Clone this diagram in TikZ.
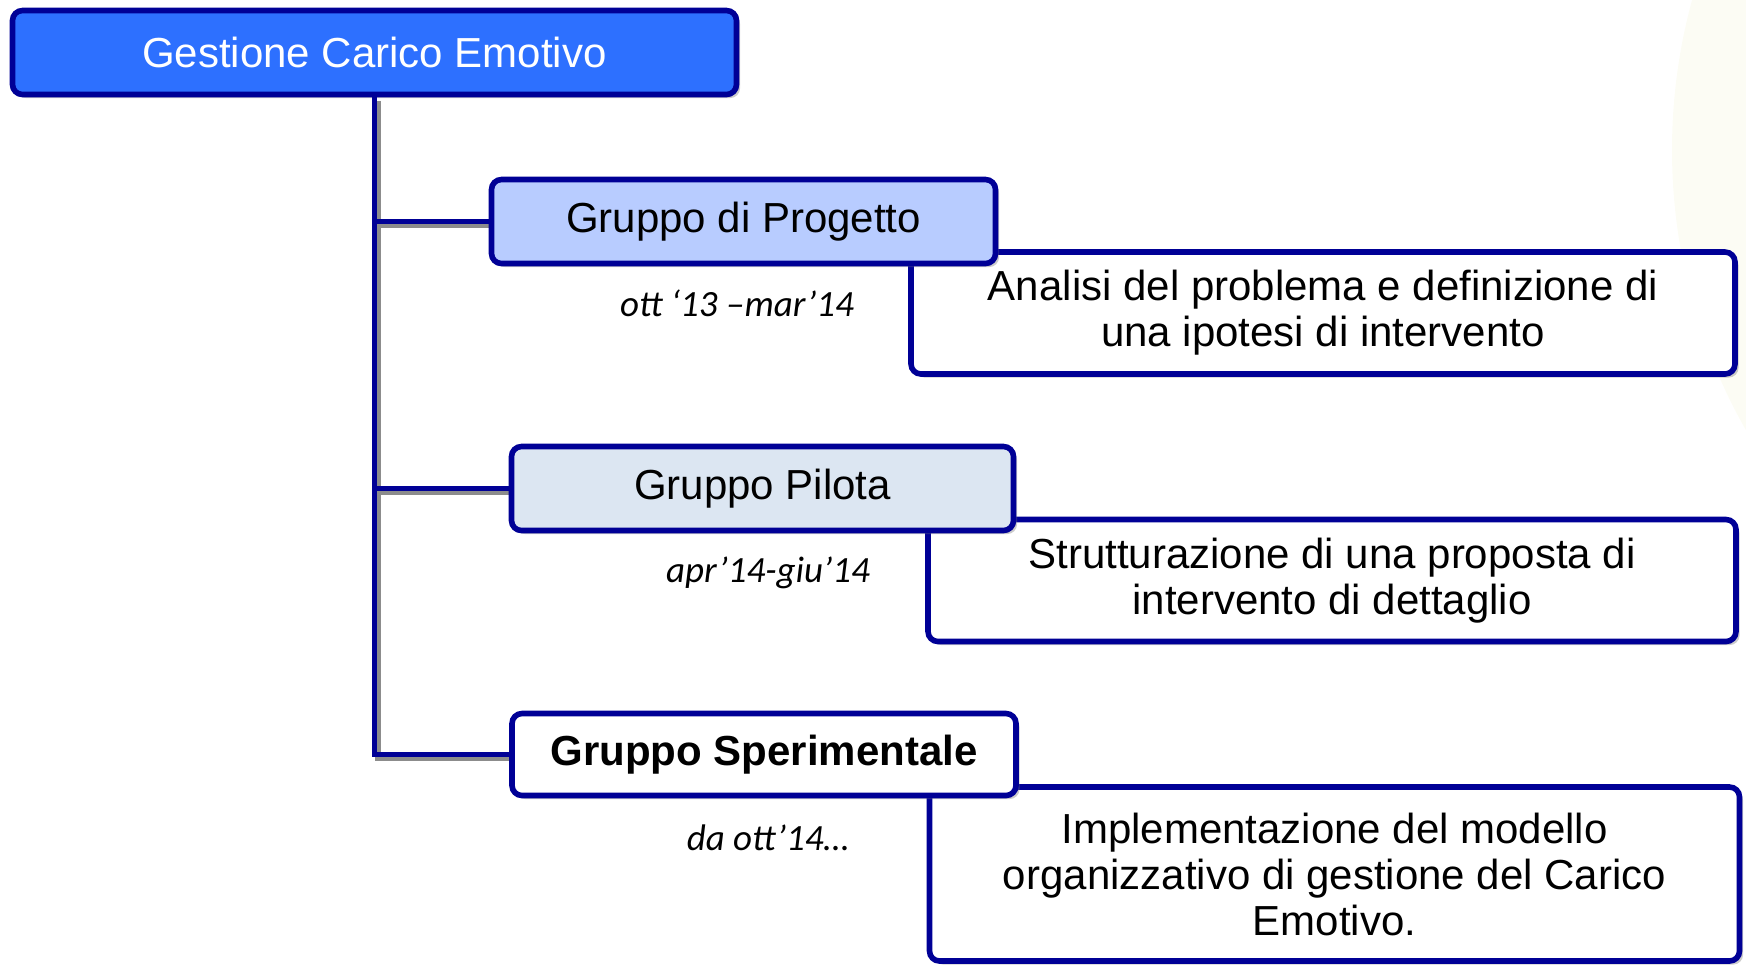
\documentclass[tikz,border=0pt]{standalone}
\usepackage{fontspec}
\setmainfont{Liberation Sans}
\newfontfamily\datefont{Carlito}
\usetikzlibrary{shadows}

\definecolor{navy}{RGB}{0,0,150}
\definecolor{topblue}{RGB}{45,112,255}
\definecolor{projblue}{RGB}{184,204,255}
\definecolor{pilotblue}{RGB}{220,230,242}
\definecolor{bgcream}{RGB}{252,252,244}

\tikzset{
  groupbox/.style={draw=navy,line width=2.8pt,rounded corners=5pt,fill=white,
    drop shadow={shadow xshift=1.8pt,shadow yshift=-1.8pt,opacity=0.4},
    inner sep=0pt,align=center,font=\fontsize{21}{23}\selectfont},
  taskbox/.style={groupbox},
  datelabel/.style={font=\datefont\itshape\fontsize{18.5}{20}\selectfont},
  link/.style={draw=navy,line width=2.8pt},
  linkshadow/.style={draw=black!45,line width=2.8pt,
    transform canvas={shift={(1.8pt,-1.8pt)}}}
}

\begin{document}
\begin{tikzpicture}[x=0.5pt,y=-0.5pt]
    \useasboundingbox (0,0) rectangle (1746,966);
    \begin{scope}
        \clip (0,0) rectangle (1746,966);
        \fill[bgcream] (2239,150) circle [radius=283.5pt];
    \end{scope}

    % boxes
    \node[groupbox,fill=topblue,text=white,minimum width=362pt,minimum height=42pt] (top) at (374.5,52.5) {Gestione Carico Emotivo};

    \node[taskbox,minimum width=412pt,minimum height=61pt] (analisi) at (1323,313) {Analisi del problema e definizione di\\una ipotesi di intervento};
    \node[taskbox,minimum width=404pt,minimum height=61pt] (strutt) at (1332,580.5) {Strutturazione di una proposta di\\intervento di dettaglio};
    \node[taskbox,minimum width=405pt,minimum height=87pt] (impl) at (1334.5,874) {Implementazione del modello\\organizzativo di gestione del Carico\\Emotivo.};

    % connectors
    \path[linkshadow] (top.south) |- (764,754.5);
    \path[linkshadow] (top.south |- 0,221.5) -- (743.5,221.5);
    \path[linkshadow] (top.south |- 0,488.5) -- (762.5,488.5);

    \node[groupbox,fill=projblue,minimum width=252pt,minimum height=42pt] (gprog) at (743.5,221.5) {Gruppo di Progetto};
    \node[groupbox,fill=pilotblue,minimum width=251pt,minimum height=42pt] (gpil) at (762.5,488.5) {Gruppo Pilota};
    \node[groupbox,minimum width=252pt,minimum height=41pt] (gsper) at (764,754.5) {\textbf{Gruppo Sperimentale}};

    \draw[link] (top.south) |- (gsper.west);
    \draw[link] (gprog.west -| top.south) -- (gprog.west);
    \draw[link] (gpil.west -| top.south) -- (gpil.west);

    % dates
    \node[datelabel] (d1) at (737,303) {ott ‘13 –mar’14};
    \node[datelabel] (d2) at (768,573) {apr’14-giu’14};
    \node[datelabel] (d3) at (768,838) {da ott’14…};
\end{tikzpicture}
\end{document}
